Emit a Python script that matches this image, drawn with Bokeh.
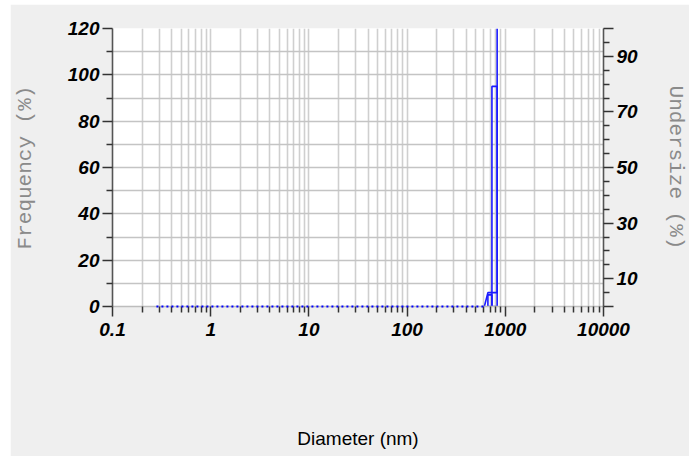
from bokeh.plotting import figure
from bokeh.models import (LinearAxis, Range1d, FixedTicker, CustomJSTickFormatter)
from bokeh.embed import file_html
from bokeh.resources import INLINE

# ---- data ----
x_major = [0.1, 1, 10, 100, 1000, 10000]
x_minor = [m * d for d in [0.1, 1, 10, 100, 1000] for m in range(2, 10)]
freq_major = [0, 20, 40, 60, 80, 100, 120]
freq_minor = [10, 30, 50, 70, 90, 110]
under_major = [0, 10, 30, 50, 70, 90, 100]
under_minor = [5, 15, 20, 25, 35, 40, 45, 55, 60, 65, 75, 80, 85, 95]

zero_size = [0.28, 612]          # dotted baseline (frequency = 0)
zero_freq = [0, 0]
bin_left = [665, 731]
bin_right = [731, 826]
frequency = [5, 95]
cum_size = [612, 665, 731, 826, 826]
undersize = [0, 5, 5, 5, 100]

BLUE = "#1a1aff"
TICKFONT = "Liberation Sans"

p = figure(width=679, height=452, x_axis_type="log",
           x_range=(0.1, 10000), y_range=(0, 120),
           output_backend="svg", toolbar_location=None,
           min_border_left=99, min_border_right=86,
           min_border_top=24, min_border_bottom=150)
p.styles = {"margin-left": "10px", "margin-top": "4px"}
p.border_fill_color = "#efefef"
p.background_fill_color = "white"
p.outline_line_color = None

p.extra_y_ranges = {"cum": Range1d(0, 100)}

# grids
p.xgrid.ticker = FixedTicker(ticks=x_major + x_minor)
p.xgrid.grid_line_color = "#cfcfcf"
p.xgrid.grid_line_width = 1.6
p.ygrid.ticker = FixedTicker(ticks=sorted(freq_major + freq_minor))
p.ygrid.grid_line_color = "#c4c4c4"
p.ygrid.grid_line_width = 1.6

def style_axis(ax):
    ax.axis_line_color = "#555555"
    ax.axis_line_width = 1.6
    ax.major_tick_line_color = "#333333"
    ax.minor_tick_line_color = "#333333"
    ax.major_tick_line_width = 1.5
    ax.minor_tick_line_width = 1.5
    ax.major_tick_out = 10
    ax.major_tick_in = 0
    ax.minor_tick_out = 6
    ax.minor_tick_in = 0
    ax.major_label_text_font = TICKFONT
    ax.major_label_text_font_style = "bold italic"
    ax.major_label_text_font_size = "19px"
    ax.major_label_text_color = "black"

# x axis
xa = p.xaxis[0]
xa.ticker = FixedTicker(ticks=x_major, minor_ticks=x_minor)
xa.formatter = CustomJSTickFormatter(code="return String(Math.round(tick*10)/10);")
style_axis(xa)
xa.axis_line_color = "#bdbdbd"
xa.major_label_standoff = 6
xa.axis_label = "Diameter (nm)"
xa.axis_label_text_font = TICKFONT
xa.axis_label_text_font_style = "normal"
xa.axis_label_text_font_size = "19px"
xa.axis_label_text_color = "black"
xa.axis_label_standoff = 89

# left axis
ya = p.yaxis[0]
ya.ticker = FixedTicker(ticks=freq_major, minor_ticks=freq_minor)
style_axis(ya)
ya.major_label_standoff = 3
ya.axis_label = "Frequency (%)"
ya.axis_label_text_font = "Liberation Mono"
ya.axis_label_text_font_style = "normal"
ya.axis_label_text_font_size = "21px"
ya.axis_label_text_color = "#8a8a8a"
ya.axis_label_standoff = 28

# right axis
ra = LinearAxis(y_range_name="cum")
ra.ticker = FixedTicker(ticks=under_major, minor_ticks=under_minor)
ra.major_label_overrides = {0: "", 100: ""}
style_axis(ra)
ra.major_label_standoff = 3
ra.axis_label = "Undersize (%)"
ra.axis_label_text_font = "Liberation Mono"
ra.axis_label_text_font_style = "normal"
ra.axis_label_text_font_size = "21px"
ra.axis_label_text_color = "#8a8a8a"
ra.axis_label_standoff = 23
p.add_layout(ra, "right")

# data glyphs
p.line(zero_size, zero_freq, line_color="#0000ff", line_width=2,
       line_dash="2 3", level="overlay")
p.quad(left=bin_left, right=bin_right, bottom=0, top=frequency,
       fill_color=None, line_color=BLUE, line_width=1.6)
p.line(cum_size, undersize, y_range_name="cum", line_color=BLUE, line_width=1.6)

open("out.html", "w").write(file_html(p, INLINE))
